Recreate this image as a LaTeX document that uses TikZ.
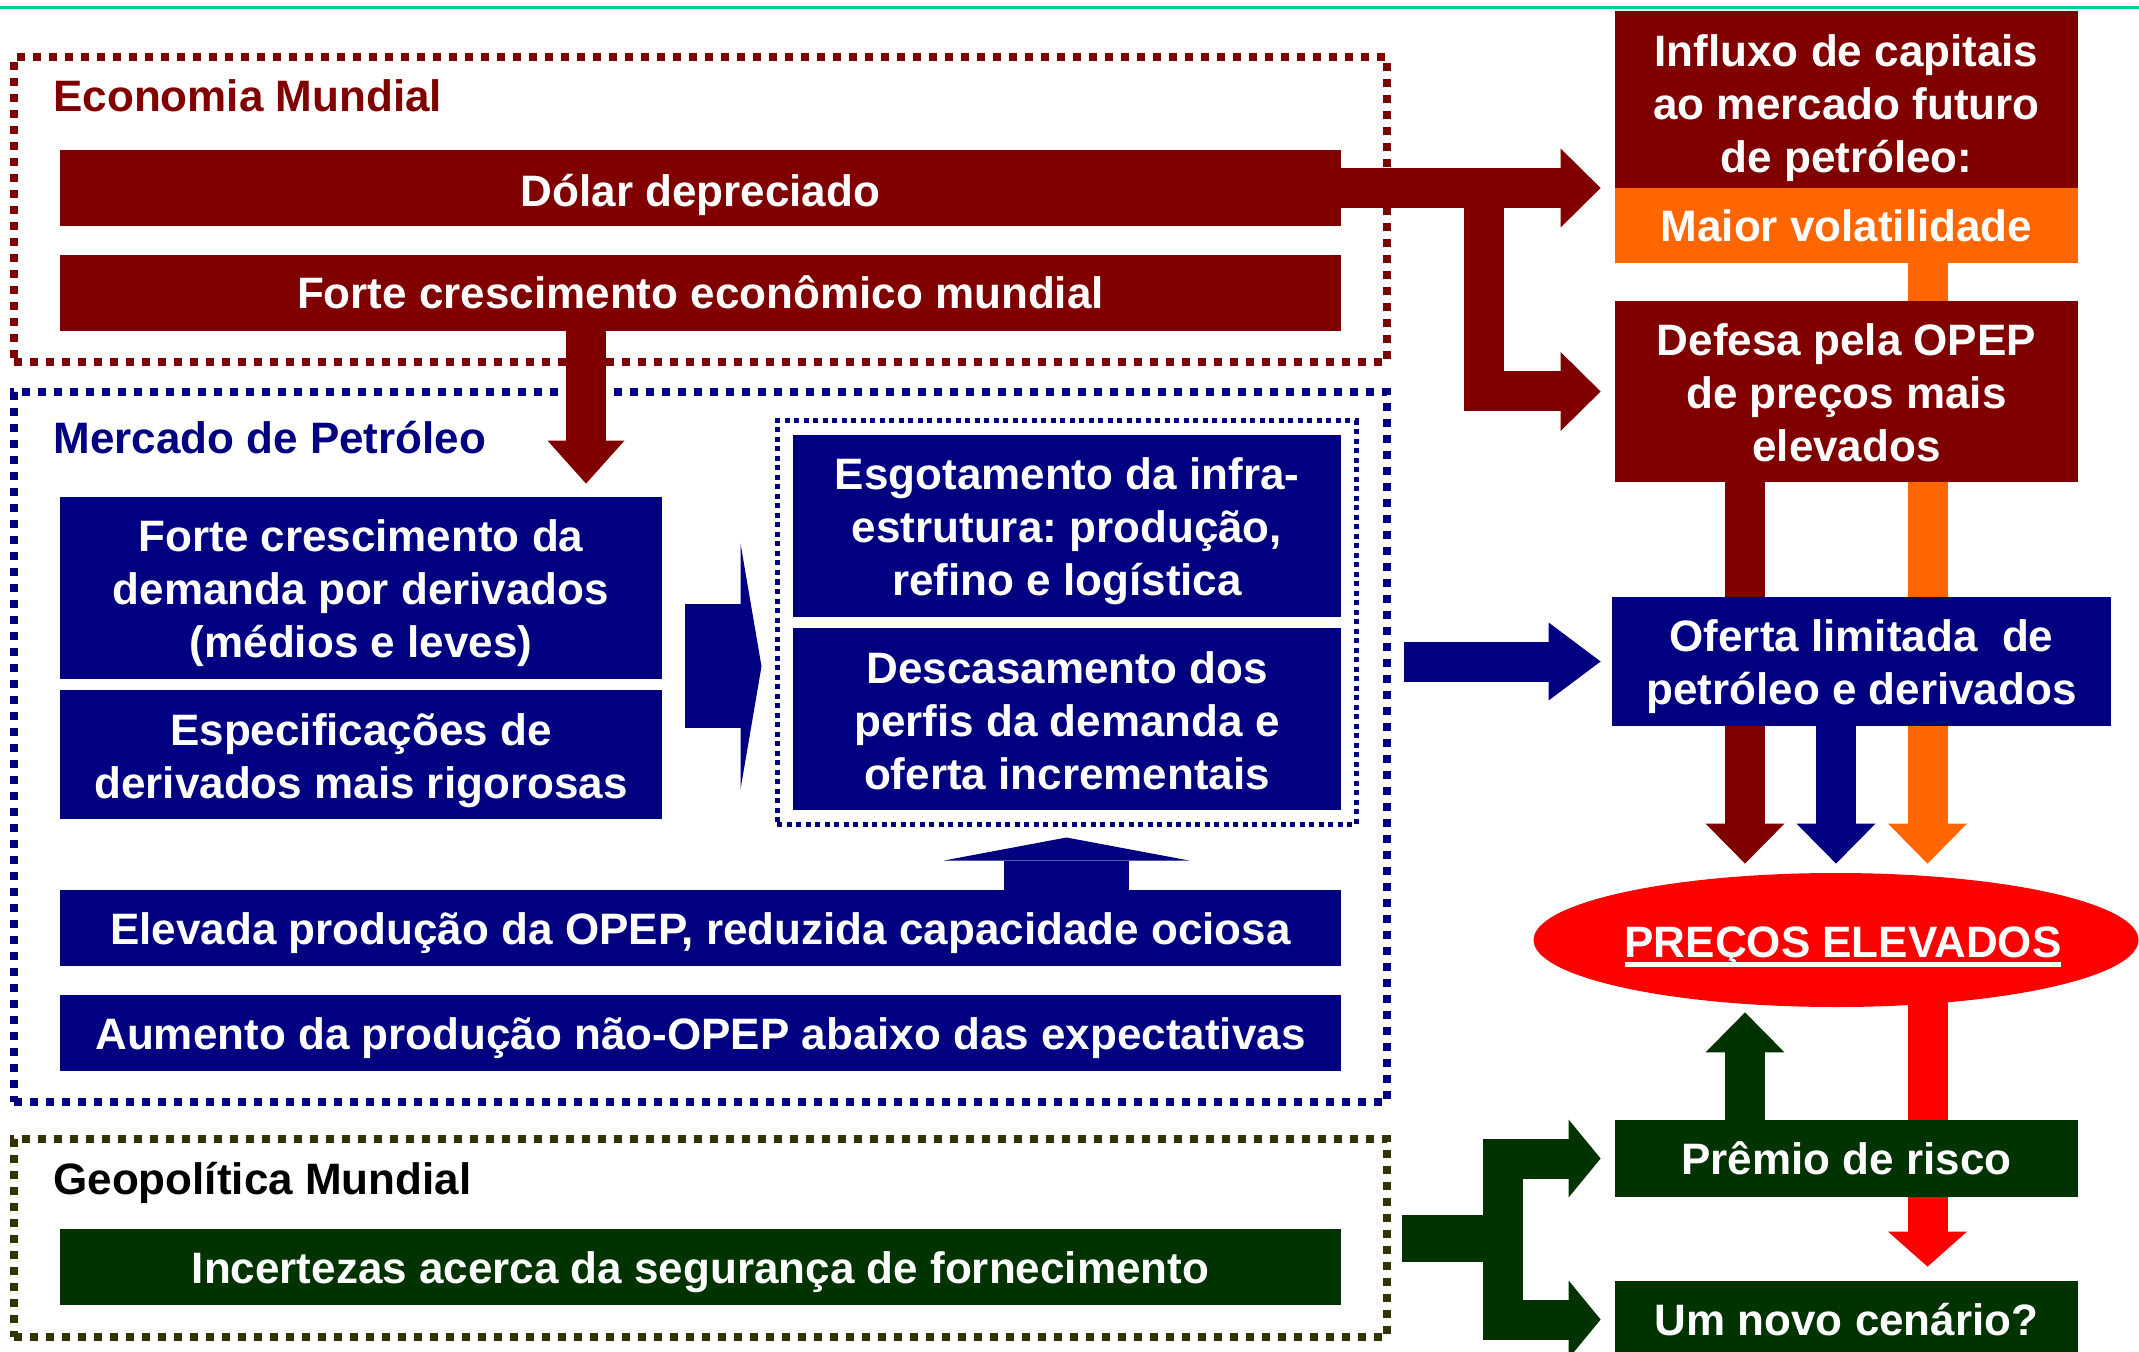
\documentclass[tikz,border=0pt]{standalone}
\usepackage{fontspec}
\setmainfont{Liberation Sans}
\usetikzlibrary{arrows.meta,shapes.geometric,calc}
\definecolor{vinho}{HTML}{800000}
\definecolor{marinho}{HTML}{000080}
\definecolor{laranja}{HTML}{FF6600}
\definecolor{vermelho}{HTML}{FF0000}
\definecolor{verde}{HTML}{003300}
\definecolor{oliva}{HTML}{333300}
\definecolor{turquesa}{HTML}{00CC99}
\pgfdeclarelayer{fundo}
\pgfsetlayers{fundo,main}
\newcommand{\sublinha}[1]{\setbox0\hbox{#1}\rlap{\rule[-4.75pt]{\wd0}{2.5pt}}\box0}
\newcommand{\alto}[1]{\rule{0pt}{#1}}
\frenchspacing

\begin{document}
\begin{tikzpicture}[x=0.5pt,y=-0.5pt]
      \tikzset{moldura/.style={draw=#1, line width=4pt, dash pattern=on 4pt off 4pt, inner sep=0pt},
        titulo/.style={text=#1, font=\bfseries\fontsize{22}{26.5}\selectfont, anchor=base west, inner sep=0pt},
        caixa/.style={fill=#1, text=white, font=\bfseries\fontsize{22}{26.5}\selectfont, align=center, inner sep=0pt},
        barra/.style={caixa=#1, minimum width=640.5pt, minimum height=38pt, text height=16pt, text depth=0pt},
        seta/.style={draw=#1, line width=20pt, -{Triangle[length=20pt, width=39.5pt, line width=0pt]}}
      }
      \useasboundingbox (0,0) rectangle (2139,1352);
      \draw [turquesa, line width=1.5pt] (0,8) -- (2139,8);

      % molduras pontilhadas
      \begin{pgfonlayer}{fundo}
        \node [moldura=vinho, minimum width=686.5pt, minimum height=152.5pt] (econ) at (700.5,209.5) {};
        \node [moldura=marinho, minimum width=686.5pt, minimum height=355pt] (mercado) at (700.5,747) {};
        \node [moldura=oliva, minimum width=686.5pt, minimum height=99pt] (geo) at (700.5,1238) {};
        \node [moldura=marinho, line width=2.5pt, dash pattern=on 2.5pt off 2.25pt, minimum width=289.5pt, minimum height=201.5pt] (infra) at (1066.5,622.5) {};
      \end{pgfonlayer}

      \node [titulo=vinho] (econtit) at (53,112) {Economia Mundial};
      \node [titulo=marinho] (mertit) at (53,454) {Mercado de Petróleo};
      \node [titulo=black] (geotit) at (53,1194) {Geopolítica Mundial};

      \node [barra=vinho, text height=19pt] (dolar) at (700.5,188) {Dólar depreciado};
      \node [barra=vinho] (forte) at (700.5,293) {Forte crescimento econômico mundial};
      \node [caixa=marinho, minimum width=301pt, minimum height=91pt] (demanda) at (361,588) {\alto{21.5pt}Forte crescimento da\\demanda por derivados\\(médios e leves)};
      \node [caixa=marinho, minimum width=301pt, minimum height=64.5pt] (espec) at (361,754.5) {\alto{22.5pt}Especificações de\\derivados mais rigorosas};
      \node [caixa=marinho, minimum width=274pt, minimum height=91pt] (esgot) at (1067,526) {\alto{21.5pt}Esgotamento da infra-\\estrutura: produção,\\refino e logística};
      \node [caixa=marinho, minimum width=274pt, minimum height=91pt] (descas) at (1067,719) {\alto{17.5pt}Descasamento dos\\perfis da demanda e\\oferta incrementais};
      \node [barra=marinho] (elevada) at (700.5,928) {Elevada produção da OPEP, reduzida capacidade ociosa};
      \node [barra=marinho] (aumento) at (700.5,1033) {Aumento da produção não-OPEP abaixo das expectativas};
      \node [barra=verde] (incert) at (700.5,1267) {Incertezas acerca da segurança de fornecimento};

      \node [caixa=vinho, minimum width=231.5pt, minimum height=88.5pt] (influxo) at (1846.5,99.5) {\alto{25pt}Influxo de capitais\\ao mercado futuro\\de petróleo:};
      \node [caixa=laranja, minimum width=231.5pt, minimum height=37.5pt, text height=16pt, text depth=0pt] (vol) at (1846.5,225.5) {Maior volatilidade};
      \node [caixa=vinho, minimum width=231.5pt, minimum height=90.5pt] (defesa) at (1846.5,391.5) {\alto{17.5pt}Defesa pela OPEP\\de preços mais\\elevados};
      \node [caixa=marinho, minimum width=249.5pt, minimum height=64.5pt] (oferta) at (1861.5,661.5) {\alto{21.5pt}Oferta limitada~ de\\petróleo e derivados};
      \node [ellipse, fill=vermelho, text=white, font=\bfseries\fontsize{22}{26.5}\selectfont, inner sep=0pt, minimum width=302.5pt, minimum height=67pt, text height=17pt, text depth=0pt] (precos) at (1836,940) {\makebox[0pt]{\hspace{7pt}\sublinha{PREÇOS ELEVADOS}}};
      \node [caixa=verde, minimum width=231.5pt, minimum height=38.5pt, text height=16pt, text depth=0pt] (premio) at (1846.5,1158.5) {Prêmio de risco};
      \node [caixa=verde, minimum width=231.5pt, minimum height=38.5pt, text height=16pt, text depth=0pt] (cenario) at (1846.5,1319.5) {Um novo cenário?};

      % setas largas
      \begin{pgfonlayer}{fundo}
        \coordinate (dolfork) at ([xshift=71.25pt]dolar.east);
        \coordinate (colF) at (586,0);
        \coordinate (colA) at (1745,0);
        \coordinate (colB) at (1927.5,0);
        \coordinate (junta) at ([xshift=11.5pt,yshift=6.5pt]demanda.south east);
        \coordinate (garfo) at ([xshift=55.75pt]geo.east);

        \draw [seta=vinho, shorten >=7pt] (dolar.east) -- (dolar.east -| influxo.west);
        \draw [seta=vinho, shorten >=7pt] (dolfork) |- (defesa.west);
        \draw [seta=vinho, -{Triangle[length=21.5pt, width=38.5pt, line width=0pt]}, shorten >=6.5pt] (forte.south -| colF) -- (demanda.north -| colF);
        \draw [marinho, line width=62pt, -{Triangle[length=10.5pt, width=123pt, line width=0pt]}, shorten >=6.5pt] (junta) -- (junta -| infra.west);
        \draw [marinho, line width=62.5pt, -{Triangle[length=11.5pt, width=122.5pt, line width=0pt]}, shorten >=5.5pt] (elevada.north -| infra.south) -- (infra.south);
        \draw [seta=marinho, -{Triangle[length=26pt, width=39pt, line width=0pt]}, shorten >=5.5pt] ([xshift=6.5pt]mercado.east |- oferta.west) -- (oferta.west);
        \draw [seta=vinho, shorten >=4.5pt] (defesa.south -| colA) -- (precos.north -| colA);
        \draw [seta=laranja, shorten >=4.5pt] (vol.south -| colB) -- (precos.north -| colB);
        \draw [seta=marinho, shorten >=4.5pt] (oferta.south -| precos.north) -- (precos.north);
        \draw [seta=vermelho, -{Triangle[length=17.5pt, width=39.5pt, line width=0pt]}, shorten >=7pt] (precos.center -| colB) -- (cenario.north -| colB);
        \draw [seta=verde, shorten >=2.5pt] (premio.north -| colA) -- (precos.south -| colA);
        \draw [verde, line width=23.5pt] ([xshift=5.5pt]geo.east) -- (garfo);
        \draw [seta=verde, -{Triangle[length=16pt, width=39pt, line width=0pt]}, shorten >=7pt] (garfo) |- (premio.west);
        \draw [seta=verde, -{Triangle[length=16pt, width=39pt, line width=0pt]}, shorten >=7pt] (garfo) |- (cenario.west);
      \end{pgfonlayer}
\end{tikzpicture}
\end{document}
